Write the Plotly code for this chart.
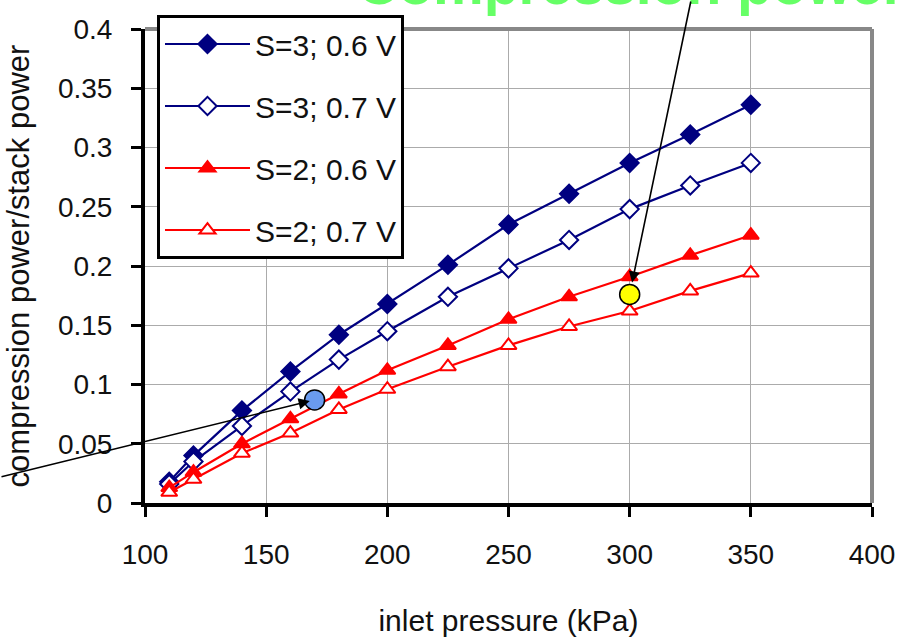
import plotly.graph_objects as go

# Inlet pressure (kPa) at which each case was evaluated
pressure = [110, 120, 140, 160, 180, 200, 225, 250, 275, 300, 325, 350]

# Compression power / stack power for each stack count and cell voltage
s3_06v = [0.018, 0.040, 0.078, 0.111, 0.142, 0.168, 0.201, 0.235, 0.261, 0.287, 0.311, 0.336]
s3_07v = [0.016, 0.035, 0.065, 0.094, 0.121, 0.145, 0.174, 0.198, 0.222, 0.248, 0.268, 0.287]
s2_06v = [0.013, 0.026, 0.050, 0.071, 0.092, 0.112, 0.133, 0.155, 0.174, 0.191, 0.209, 0.226]
s2_07v = [0.009, 0.020, 0.042, 0.059, 0.079, 0.096, 0.115, 0.133, 0.149, 0.162, 0.179, 0.194]

series_names = ["S=3; 0.6 V", "S=3; 0.7 V", "S=2; 0.6 V", "S=2; 0.7 V"]

# Highlighted operating points
blue_point = (170, 0.087)
yellow_point = (300, 0.176)

x_ticks = [100, 150, 200, 250, 300, 350, 400]
y_ticks = [0, 0.05, 0.1, 0.15, 0.2, 0.25, 0.3, 0.35, 0.4]
y_tick_text = ["0", "0.05", "0.1", "0.15", "0.2", "0.25", "0.3", "0.35", "0.4"]

NAVY = "#000080"
RED = "#FF0000"
FONT = "Liberation Sans, Arial, sans-serif"

fig = go.Figure()

styles = [
    (s3_06v, NAVY, "diamond", NAVY, 14),
    (s3_07v, NAVY, "diamond", "white", 14),
    (s2_06v, RED, "triangle-up", RED, 14),
    (s2_07v, RED, "triangle-up", "white", 14),
]
for name, (vals, color, symbol, fill, size) in zip(series_names, styles):
    fig.add_trace(go.Scatter(
        x=pressure, y=vals, name=name, legendgroup=name,
        mode="lines+markers",
        line=dict(color=color, width=2.2),
        marker=dict(symbol=symbol, size=size, color=fill,
                    line=dict(color=color, width=2)),
        cliponaxis=False,
    ))

fig.add_trace(go.Scatter(
    x=[blue_point[0]], y=[blue_point[1]], mode="markers", showlegend=False,
    marker=dict(size=20, color="#6A9BEF", line=dict(color="black", width=1.5)),
))
fig.add_trace(go.Scatter(
    x=[yellow_point[0]], y=[yellow_point[1]], mode="markers", showlegend=False,
    marker=dict(size=20, color="#FFFF00", line=dict(color="black", width=1.5)),
))

axis_common = dict(
    showline=True, linecolor="black", linewidth=4,
    ticks="outside", ticklen=10, tickwidth=3, tickcolor="black",
    showgrid=True, gridcolor="#ABABAB", gridwidth=1.3,
    zeroline=False, automargin=False,
    tickfont=dict(family=FONT, size=28, color="#111111"),
)

fig.update_xaxes(
    range=[100, 400], tickvals=x_ticks, ticklabelstandoff=13,
    title=dict(text="inlet pressure (kPa)", standoff=42,
               font=dict(family=FONT, size=30, color="#111111")),
    **axis_common,
)
fig.update_yaxes(
    range=[0, 0.4], tickvals=y_ticks, ticktext=y_tick_text, ticklabelstandoff=13,
    title=dict(text="compression power/stack power", standoff=20,
               font=dict(family=FONT, size=31, color="#111111")),
    **axis_common,
)

# Grey frame along the top and right of the plotting area
fig.add_shape(type="line", xref="paper", yref="paper", x0=0, x1=1, y0=1, y1=1,
              line=dict(color="#888888", width=4))
fig.add_shape(type="line", xref="paper", yref="paper", x0=1, x1=1, y0=0, y1=1,
              line=dict(color="#888888", width=4))

# Heading that runs off the top edge
fig.add_annotation(
    text="<b>Compression power</b>", xref="paper", yref="paper",
    x=0.289, y=1.024, xanchor="left", yanchor="bottom", showarrow=False,
    font=dict(family=FONT, size=57, color="#66FF66"),
)

# Pointer arrows to the highlighted points
fig.add_annotation(
    x=168, y=0.086, xref="x", yref="y", text="", showarrow=True,
    ax=-310, ay=76, arrowhead=2, arrowsize=1.4, arrowwidth=1.6, arrowcolor="black",
)
fig.add_annotation(
    x=301, y=0.186, xref="x", yref="y", text="", showarrow=True,
    ax=59, ay=-285, arrowhead=2, arrowsize=1.4, arrowwidth=1.6, arrowcolor="black",
)

fig.update_layout(
    width=899, height=637,
    margin=dict(l=145, r=27, t=29, b=134, autoexpand=False),
    paper_bgcolor="white", plot_bgcolor="white",
    font=dict(family=FONT, color="#111111"),
    legend=dict(
        x=0.0165, y=1.0295, xanchor="left", yanchor="top",
        bgcolor="white", bordercolor="black", borderwidth=3,
        font=dict(family=FONT, size=30, color="#111111"),
        tracegroupgap=20, itemwidth=85,
    ),
)

fig.write_html("out.html")
